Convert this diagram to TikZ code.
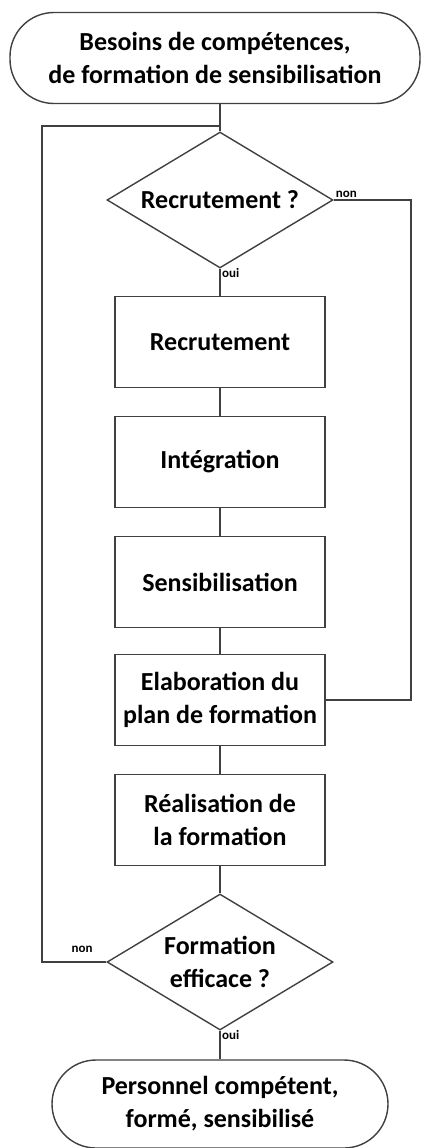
\documentclass[tikz,border=0pt]{standalone}
\usepackage{fontspec}
\setmainfont{Carlito}
\usetikzlibrary{shapes.geometric,positioning}
\definecolor{FluxLine}{HTML}{404040}

\begin{document}
\begin{tikzpicture}[x=1pt,y=-1pt,
  every node/.style={font=\fontsize{26}{33}\selectfont\bfseries,align=center},
  terminal/.style={draw=FluxLine,line width=1.4pt,rounded corners=44pt,inner sep=0pt},
  etape/.style={draw=FluxLine,line width=1.4pt,minimum width=210pt,minimum height=91pt,inner sep=0pt},
  choix/.style={draw=FluxLine,line width=1.4pt,shape=diamond,aspect=1.66,inner sep=0pt,
                minimum width=226pt,minimum height=136pt},
  lien/.style={draw=FluxLine,line width=1.4pt},
  reponse/.style={font=\fontsize{13}{15}\selectfont\bfseries,inner sep=2pt}]
  \useasboundingbox (0,0) rectangle (423,1148);
  % noeuds
  \node[terminal,minimum width=410pt,minimum height=91pt] (besoins) at (215,58)
    {Besoins de compétences,\\de formation de sensibilisation};
  \node[choix] (q1) at (220,200) {Recrutement ?};
  \node[etape] (recru) at (220,342) {Recrutement};
  \node[etape] (integ) at (220,462) {Intégration};
  \node[etape] (sensi) at (220,582) {Sensibilisation};
  \node[etape] (elab) at (220,700) {Elaboration du\\plan de formation};
  \node[etape] (real) at (220,820) {Réalisation de\\la formation};
  \node[choix] (q2) at (220,962) {Formation\\efficace ?};
  \node[terminal,minimum width=336pt,minimum height=88pt] (fin) at (220,1104)
    {Personnel compétent,\\formé, sensibilisé};
  \coordinate (jonction) at (220,126);
  \coordinate (gauche) at (42,126);
  \coordinate (droite) at (411,200);
  % liens
  \draw[lien] (besoins.south -| q1.north) -- (q1.north);
  \draw[lien] (q1.south) -- (recru.north);
  \draw[lien] (recru) -- (integ);
  \draw[lien] (integ) -- (sensi);
  \draw[lien] (sensi) -- (elab);
  \draw[lien] (elab) -- (real);
  \draw[lien] (real) -- (q2);
  \draw[lien] (q2.south) -- (fin.north);
  \draw[lien] (q1.east) -- (droite) |- (elab.east);
  \draw[lien] (q2.west) -| (gauche) -- (jonction);
  % reponses
  \node[reponse,anchor=south west] at (q1.east) {non};
  \node[reponse,anchor=north west] at ([yshift=3pt]q1.south) {oui};
  \node[reponse,anchor=south] at (82,955) {non};
  \node[reponse,anchor=north west] at ([yshift=3pt]q2.south) {oui};
\end{tikzpicture}
\end{document}
